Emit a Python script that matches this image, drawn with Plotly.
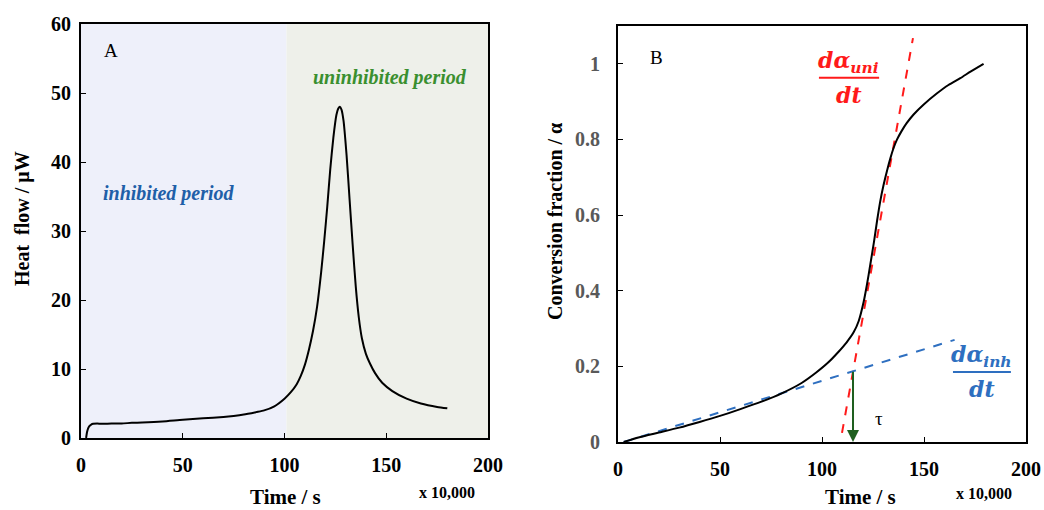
import plotly.graph_objects as go

# ---- Panel A: heat flow ----
time_a = [2.5, 3.0, 3.5, 4.0, 5.0, 6.0, 8.0, 10, 15, 20, 25, 30, 40, 50, 60, 70, 75, 80, 86, 90, 95,
          100, 103, 106, 108, 110, 112, 114, 116, 118, 119.5, 121, 122.5, 124, 125.5, 126.5, 127.2,
          128, 129, 130.5, 132, 133.5, 135, 136.5, 138, 140, 142, 144.5, 148, 153, 160, 167, 175, 180]
heat_a = [0.0, 0.9, 1.4, 1.7, 1.95, 2.05, 2.1, 2.05, 2.1, 2.1, 2.2, 2.25, 2.4, 2.65, 2.85, 3.05, 3.2, 3.4, 3.75,
          4.0, 4.6, 5.7, 6.6, 7.8, 9.0, 10.6, 12.8, 15.5, 19.0, 24.0, 28.5, 33.5, 39.0, 43.5, 46.8, 47.8, 48.0,
          47.6, 46.0, 41.0, 34.5, 28.0, 22.0, 17.5, 14.5, 12.2, 10.8, 9.4, 8.0, 6.8, 5.7, 5.0, 4.5, 4.3]

# ---- Panel B: conversion fraction ----
time_b = [2.8, 10, 20, 30, 40, 50, 60, 70, 80, 90, 97, 103, 108, 112, 115.5, 118, 120.4, 122, 123.7,
          125.5, 127, 128.5, 130.2, 132, 133.5, 135, 136.8, 139, 141.5, 144.9, 150, 156.4, 162, 167.8, 173, 179.2]
alpha_b = [0.0, 0.012, 0.025, 0.038, 0.053, 0.069, 0.087, 0.106, 0.128, 0.156, 0.183, 0.21, 0.238, 0.263,
           0.29, 0.32, 0.37, 0.415, 0.47, 0.53, 0.585, 0.635, 0.68, 0.72, 0.75, 0.776, 0.8, 0.822,
           0.843, 0.866, 0.893, 0.922, 0.944, 0.962, 0.98, 1.0]

# tangent lines (end points)
uni_x = [109.8, 144.6]
uni_y = [0.024, 1.068]
inh_x = [2.8, 165]
inh_y = [0.0, 0.27]
tau_x = 115.2
tau_y = [0.19, 0.0]

x_ticks = [0, 50, 100, 150, 200]
ya_ticks = [0, 10, 20, 30, 40, 50, 60]
yb_ticks = [0, 0.2, 0.4, 0.6, 0.8, 1]
yb_labels = ["0", "0.2", "0.4", "0.6", "0.8", "1"]
split_x = 101

SERIF = "Liberation Serif"
W, H = 1044, 510

fig = go.Figure()
fig.add_trace(go.Scatter(x=time_a, y=heat_a, mode="lines", line=dict(color="black", width=2, shape="spline", smoothing=0.6),
                         xaxis="x", yaxis="y", showlegend=False))
fig.add_trace(go.Scatter(x=uni_x, y=uni_y, mode="lines", line=dict(color="#FF1A1A", width=2, dash="dash"),
                         xaxis="x2", yaxis="y2", showlegend=False))
fig.add_trace(go.Scatter(x=inh_x, y=inh_y, mode="lines", line=dict(color="#2E6FC0", width=2, dash="dash"),
                         xaxis="x2", yaxis="y2", showlegend=False))
fig.add_trace(go.Scatter(x=time_b, y=alpha_b, mode="lines", line=dict(color="black", width=2, shape="spline", smoothing=0.6),
                         xaxis="x2", yaxis="y2", showlegend=False))

def px_x(p):
    return p / W

def px_y(p):
    return 1 - p / H

axis_common = dict(showline=True, linecolor="black", linewidth=2, mirror=True, ticks="inside", ticklen=5,
                   tickcolor="black", showgrid=False, zeroline=False, automargin=False)

fig.update_layout(
    width=W, height=H, margin=dict(l=0, r=0, t=0, b=0, autoexpand=False),
    paper_bgcolor="white", plot_bgcolor="white",
    xaxis=dict(domain=[px_x(81), px_x(488)], range=[0, 200], tickvals=x_ticks, anchor="y",
               tickfont=dict(family=SERIF, size=20, color="black", weight="bold"), ticklabelstandoff=8, **axis_common),
    yaxis=dict(domain=[px_y(438), px_y(24)], range=[0, 60], tickvals=ya_ticks, anchor="x",
               tickfont=dict(family=SERIF, size=20, color="black", weight="bold"), ticklabelstandoff=4, **axis_common),
    xaxis2=dict(domain=[px_x(618), px_x(1026)], range=[0, 200], tickvals=x_ticks, anchor="y2",
                tickfont=dict(family=SERIF, size=20, color="black", weight="bold"), ticklabelstandoff=8, **axis_common),
    yaxis2=dict(domain=[px_y(442), px_y(26)], range=[0, 1.1], tickvals=yb_ticks, ticktext=yb_labels, anchor="x2",
                tickfont=dict(family=SERIF, size=20, color="#595959", weight="bold"), ticklabelstandoff=12, **axis_common),
)

# shaded periods
fig.add_shape(type="rect", xref="x", yref="y domain", x0=0, x1=split_x, y0=0, y1=1,
              fillcolor="#EEF0FA", line_width=0, layer="below")
fig.add_shape(type="rect", xref="x", yref="y domain", x0=split_x, x1=200, y0=0, y1=1,
              fillcolor="#EEF0EA", line_width=0, layer="below")

# fraction bars
fig.add_shape(type="line", xref="x2", yref="y2", x0=98.5, x1=128, y0=0.963, y1=0.963,
              line=dict(color="#FF1A1A", width=2))
fig.add_shape(type="line", xref="x2", yref="y2", x0=164.2, x1=192.6, y0=0.185, y1=0.185,
              line=dict(color="#2E6FC0", width=2))

ann = []
def txt(text, x, y, xref, yref, size, color="black", weight="normal", family=SERIF, **kw):
    ann.append(dict(text=text, x=x, y=y, xref=xref, yref=yref, showarrow=False,
                    xanchor="center", yanchor="middle",
                    font=dict(family=family, size=size, color=color, weight=weight), **kw))

MATH = "DejaVu Serif"
txt("A", 14.7, 56.1, "x", "y", 19)
txt("<i>inhibited period</i>", 43.2, 35.5, "x", "y", 20, "#1F5FA8", "bold")
txt("<i>uninhibited period</i>", 151.8, 52.3, "x", "y", 20, "#3A8F2F", "bold")
txt("B", 19, 1.016, "x2", "y2", 19)
txt("τ", 128, 0.063, "x2", "y2", 19)
txt("<i>dα</i><sub><i>uni</i></sub>", 113.2, 1.005, "x2", "y2", 22, "#FF1A1A", "bold", MATH)
txt("<i>dt</i>", 113.2, 0.918, "x2", "y2", 22, "#FF1A1A", "bold", MATH)
txt("<i>dα</i><sub><i>inh</i></sub>", 178.4, 0.227, "x2", "y2", 22, "#2E6FC0", "bold", MATH)
txt("<i>dt</i>", 178.4, 0.14, "x2", "y2", 22, "#2E6FC0", "bold", MATH)

# axis titles
txt("Heat  flow / μW", px_x(22), px_y(219), "paper", "paper", 20, weight="bold", textangle=-90)
txt("Time / s", px_x(285), px_y(497), "paper", "paper", 21, weight="bold")
txt("x 10,000", px_x(447), px_y(492), "paper", "paper", 16, weight="bold")
txt("Conversion fraction / α", px_x(555), px_y(222), "paper", "paper", 20, weight="bold", textangle=-90)
txt("Time / s", px_x(860), px_y(497), "paper", "paper", 21, weight="bold")
txt("x 10,000", px_x(984), px_y(493), "paper", "paper", 16, weight="bold")

# tau arrow
ann.append(dict(x=tau_x, y=tau_y[1], ax=tau_x, ay=tau_y[0], xref="x2", yref="y2", axref="x2", ayref="y2",
                showarrow=True, arrowhead=2, arrowsize=1.2, arrowwidth=2, arrowcolor="#1F5F1F", text=""))

fig.update_layout(annotations=ann)
fig.write_html("out.html", config={"displayModeBar": False},
               post_script="document.body.style.margin='0';document.body.style.overflow='hidden';"
                           "document.documentElement.style.overflow='hidden';")
